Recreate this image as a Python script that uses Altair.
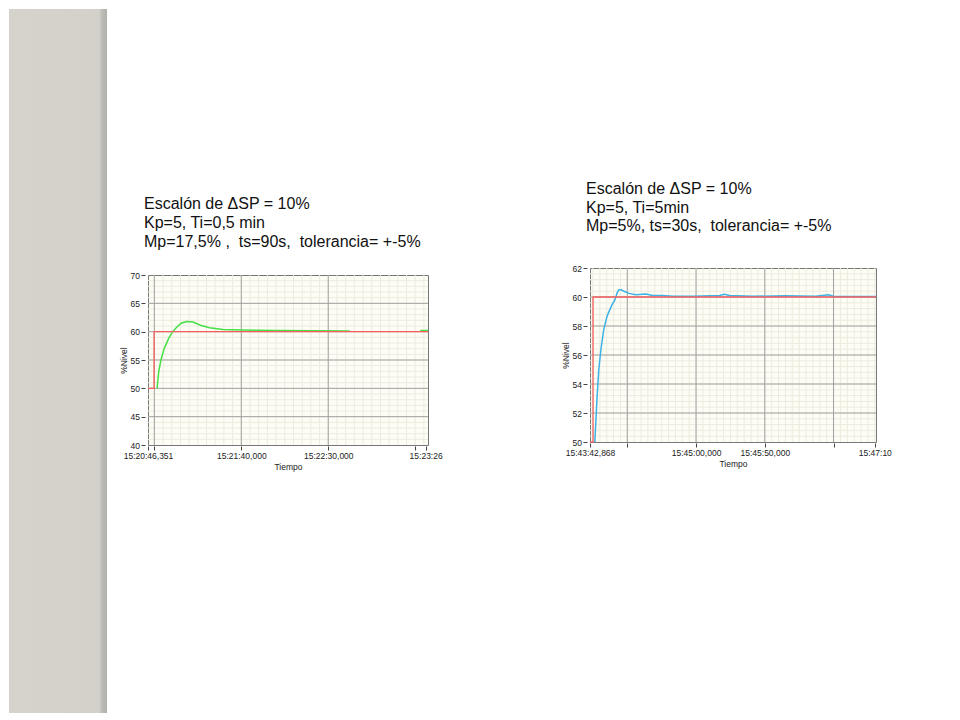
import altair as alt
import pandas as pd

# ---------------- data ----------------
# Left panel (Ti = 0,5 min); time in seconds after 15:20:46,351
L_TITLE = ["Escalón de ΔSP = 10%",
           "Kp=5, Ti=0,5\u00a0min",
           "Mp=17,5%\u00a0,\u00a0\u00a0ts=90s,\u00a0\u00a0tolerancia= +-5%"]
L_XDOM = [0, 161]
L_YDOM = [40, 70]
L_XTICKS = [0, 3.649, 53.649, 103.649, 153.649, 159.649]
L_XLABELS = ["15:20:46,351", "", "15:21:40,000", "15:22:30,000", "", "15:23:26"]
L_YTICKS = [40, 45, 50, 55, 60, 65, 70]
L_MAJOR_X = [3.649, 53.649, 103.649]
L_MAJOR_Y = [45, 50, 55, 60, 65]
L_MINOR_X = [3.649 + 5 * k for k in range(32)]
L_MINOR_Y = list(range(41, 70))
L_SP_T = [0, 3.5, 3.5, 161]
L_SP_Y = [50, 50, 60, 60]
L_PV_T = [5.2, 6.2, 7.5, 9.4, 11.9, 14.2, 16.2, 19.0, 22.3, 25.8, 30.6, 35.4,
          43.1, 53.6, 73.8, 95.0, 116.0]
L_PV_Y = [50, 53.0, 55.1, 57.1, 58.8, 60.0, 60.7, 61.5, 61.8, 61.7, 61.1, 60.7,
          60.4, 60.3, 60.2, 60.15, 60.1]
L_PV2_T = [156.5, 161]
L_PV2_Y = [60.2, 60.2]

# Right panel (Ti = 5 min); time in seconds after 15:43:42,868
R_TITLE = ["Escalón de ΔSP = 10%",
           "\u00a0Kp=5, Ti=5min",
           "Mp=5%, ts=30s,\u00a0\u00a0tolerancia= +-5%"]
R_XDOM = [0, 208]
R_YDOM = [50, 62]
R_XTICKS = [0, 27.132, 77.132, 127.132, 177.132, 207.132]
R_XLABELS = ["15:43:42,868", "", "15:45:00,000", "15:45:50,000", "", "15:47:10"]
R_YTICKS = [50, 52, 54, 56, 58, 60, 62]
R_MAJOR_X = [27.132, 77.132, 127.132, 177.132]
R_MAJOR_Y = [52, 54, 56, 58, 60]
R_MINOR_X = [2.132 + 5 * k for k in range(42)]
R_MINOR_Y = [round(50 + 0.4 * k, 1) for k in range(1, 30)]
R_SP_T = [0, 2.2, 2.2, 208]
R_SP_Y = [50, 50, 60, 60]
R_PV_T = [3.5, 4.2, 5.2, 6.4, 8.1, 10.1, 12.5, 15.7, 18.1, 19.8, 21.0, 22.7,
          24.7, 28.4, 33.2, 40.6, 45.4, 52.7, 60.1, 75.0, 94.2, 97.9, 101.5,
          118.0, 142.0, 164.0, 173.5, 177.0, 208.0]
R_PV_Y = [50, 51.3, 53.2, 55.0, 56.5, 57.8, 58.7, 59.4, 59.8, 60.3, 60.5, 60.5,
          60.4, 60.25, 60.15, 60.2, 60.1, 60.1, 60.05, 60.05, 60.1, 60.18, 60.1,
          60.05, 60.08, 60.06, 60.15, 60.05, 60.04]

# ---------------- style ----------------
FONT = "Liberation Sans"
MINOR = "#ebebde"
MAJOR = "#a2a2a2"
PLOT_BG = "#fdfdf6"
RED = "#f46060"


def label_expr(vals, labels):
    expr = "''"
    for v, lab in reversed(list(zip(vals, labels))):
        expr = f"datum.value == {v} ? '{lab}' : {expr}"
    return expr


def panel(title, offset, line_h, xdom, ydom, xticks, xlabels, yticks,
          major_x, major_y, minor_x, minor_y, sp_t, sp_y, pv_parts, pv_color,
          width, height):
    X = alt.X("t:Q",
              scale=alt.Scale(domain=xdom, nice=False, zero=False),
              axis=alt.Axis(values=xticks, labelExpr=label_expr(xticks, xlabels),
                            title="Tiempo", domain=False, grid=False,
                            tickSize=4, offset=1, labelPadding=1,
                            tickColor="#444", labelColor="#222",
                            labelFont=FONT, labelFontSize=8.5,
                            labelFlush=False, labelOverlap=False,
                            titleFont=FONT, titleFontSize=8.5,
                            titleFontWeight="normal", titleColor="#222",
                            titlePadding=3))
    Y = alt.Y("v:Q",
              scale=alt.Scale(domain=ydom, nice=False, zero=False),
              axis=alt.Axis(values=yticks, title="%Nivel", domain=False,
                            grid=False, tickSize=4, offset=3, labelPadding=1.5,
                            tickColor="#444", labelColor="#222",
                            labelFont=FONT, labelFontSize=8.5,
                            titleFont=FONT, titleFontSize=8.5,
                            titleFontWeight="normal", titleColor="#222",
                            titlePadding=2))
    layers = [
        alt.Chart(pd.DataFrame({"t": minor_x})).mark_rule(color=MINOR, strokeWidth=1).encode(x=X),
        alt.Chart(pd.DataFrame({"v": minor_y})).mark_rule(color=MINOR, strokeWidth=1).encode(y=Y),
        alt.Chart(pd.DataFrame({"t": major_x})).mark_rule(color=MAJOR, strokeWidth=1).encode(x=X),
        alt.Chart(pd.DataFrame({"v": major_y})).mark_rule(color=MAJOR, strokeWidth=1).encode(y=Y),
    ]
    rows = []
    for seg, (ts, vs) in enumerate(pv_parts):
        for i, (t, v) in enumerate(zip(ts, vs)):
            rows.append({"t": t, "v": v, "i": i, "seg": seg})
    pv_df = pd.DataFrame(rows)
    layers.append(alt.Chart(pv_df).mark_line(color=pv_color, strokeWidth=1.5)
                  .encode(x=X, y=Y, detail="seg:N", order="i:Q"))
    sp_df = pd.DataFrame({"t": sp_t, "v": sp_y, "i": list(range(len(sp_t)))})
    layers.append(alt.Chart(sp_df).mark_line(color=RED, strokeWidth=1.3)
                  .encode(x=X, y=Y, order="i:Q"))
    return alt.layer(*layers).properties(
        width=width, height=height,
        title=alt.TitleParams(text=title, anchor="start", frame="group",
                              font=FONT, fontSize=16, fontWeight="normal",
                              color="#111", lineHeight=line_h, offset=offset,
                              dx=-4),
        view=alt.ViewBackground(fill=PLOT_BG, stroke="#777", strokeWidth=1),
    )


def block(w, h, color="transparent"):
    # a rectangle that exactly fills a w x h view (spacers / slide decoration)
    return alt.Chart(pd.DataFrame({"a": [0], "b": [1]})).mark_rect(
        color=color).encode(
        x=alt.X("a:Q", axis=None, scale=alt.Scale(domain=[0, 1], nice=False)),
        x2="b:Q").properties(
        width=w, height=h, view=alt.ViewBackground(stroke="transparent"))


# decorative textured strip on the left of the slide
strip_fill = alt.LinearGradient(
    gradient="linear", x1=0, x2=1, y1=0, y2=0,
    stops=[alt.GradientStop(color="#d6d3cd", offset=0),
           alt.GradientStop(color="#d4d1cb", offset=0.92),
           alt.GradientStop(color="#bdbbb6", offset=0.95),
           alt.GradientStop(color="#b2b0ac", offset=1)])
strip = block(98, 704, strip_fill)

left = panel(L_TITLE, 21.5, 19, L_XDOM, L_YDOM, L_XTICKS, L_XLABELS, L_YTICKS,
             L_MAJOR_X, L_MAJOR_Y, L_MINOR_X, L_MINOR_Y, L_SP_T, L_SP_Y,
             [(L_PV_T, L_PV_Y), (L_PV2_T, L_PV2_Y)], "#46e046", 280, 170)
right = panel(R_TITLE, 30, 18.5, R_XDOM, R_YDOM, R_XTICKS, R_XLABELS, R_YTICKS,
              R_MAJOR_X, R_MAJOR_Y, R_MINOR_X, R_MINOR_Y, R_SP_T, R_SP_Y,
              [(R_PV_T, R_PV_Y)], "#3cb2e6", 286, 174)

col_left = alt.vconcat(block(1, 265.7), left, spacing=0, bounds="flush")
col_right = alt.vconcat(block(1, 259), right, spacing=0, bounds="flush")

chart = alt.hconcat(strip, block(8.1, 1), col_left, block(114.9, 1), col_right,
                    spacing=0).properties(padding=0, background="white")

chart.save("out.html", embed_options={"renderer": "svg", "actions": False})
